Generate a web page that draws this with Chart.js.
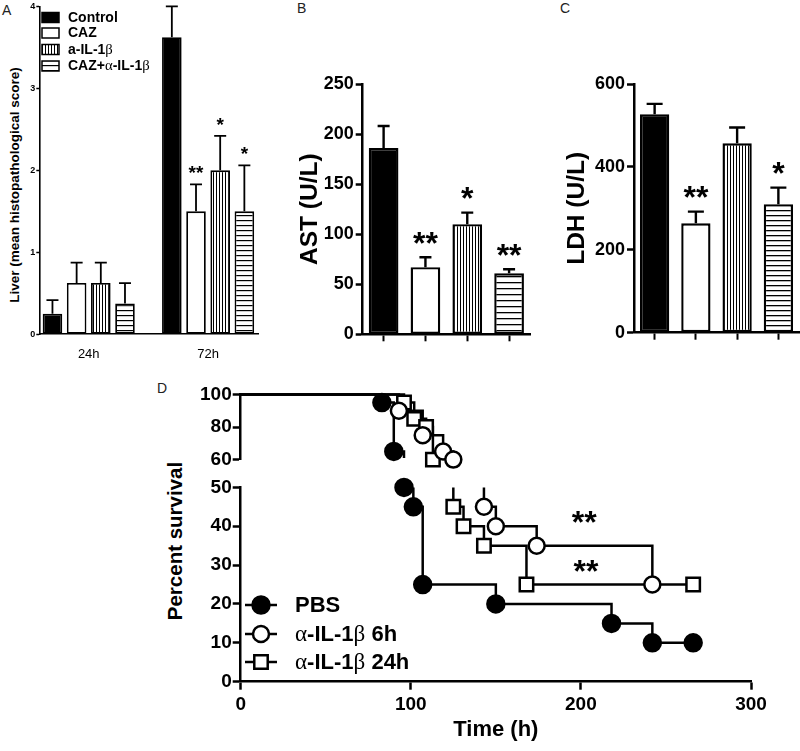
<!DOCTYPE html>
<html><head><meta charset="utf-8">
<script src="https://cdn.jsdelivr.net/npm/chart.js@4.4.1/dist/chart.umd.min.js"></script>
<style>
html,body{margin:0;padding:0;background:#fff;width:800px;height:751px;overflow:hidden;font-family:"Liberation Sans",Arial,sans-serif;}
canvas{position:absolute;}
.pl{position:absolute;font-size:14px;line-height:14px;color:#222;}
.rot{position:absolute;transform:translate(-50%,-50%) rotate(-90deg);font-weight:bold;white-space:nowrap;color:#000;line-height:1;}
</style></head><body>
<div class="pl" style="left:2px;top:3px">A</div>
<div class="pl" style="left:297px;top:1px">B</div>
<div class="pl" style="left:560px;top:1px">C</div>
<div class="pl" style="left:157px;top:381px">D</div>
<div class="rot" style="left:15px;top:185px;font-size:13.5px">Liver (mean histopathological score)</div>
<div class="rot" style="left:175px;top:541px;font-size:20.5px">Percent survival</div>
<canvas id="cA" width="270" height="380" style="left:0;top:0"></canvas>
<canvas id="cB" width="255" height="350" style="left:280px;top:0"></canvas>
<canvas id="cC" width="265" height="350" style="left:535px;top:0"></canvas>
<canvas id="cD1" width="650" height="90" style="left:150px;top:382px"></canvas>
<canvas id="cD2" width="650" height="276" style="left:150px;top:475px"></canvas>
<script>
// ---------- DATA ----------
const groupsA = ['24h', '72h'];
const treatments = ['Control', 'CAZ', 'a-IL-1β', 'CAZ+α-IL-1β'];
const liverControl = [0.25, 3.625];
const liverCAZ = [0.625, 1.5];
const liverAIL = [0.625, 2.0];
const liverCombo = [0.375, 1.5];
const liverErrControl = [0.167, 0.375];
const liverErrCAZ = [0.25, 0.33];
const liverErrAIL = [0.25, 0.42];
const liverErrCombo = [0.25, 0.56];
const liverSigControl = ['', ''];
const liverSigCAZ = ['', '**'];
const liverSigAIL = ['', '*'];
const liverSigCombo = ['', '*'];
const ticksA = [0, 1, 2, 3, 4];

const astMean = [186, 67, 110, 61];
const astErr = [22, 10, 11.5, 4];
const astSig = ['', '**', '*', '**'];
const ticksB = [0, 50, 100, 150, 200, 250];

const ldhMean = [527, 264, 457, 310];
const ldhErr = [25, 28, 38, 40];
const ldhSig = ['', '**', '', '*'];
const ticksC = [0, 200, 400, 600];

const survNames = ['PBS', 'α-IL-1β 6h', 'α-IL-1β 24h'];
const survTimePBS = [0, 83, 90, 96, 101.5, 107, 150, 218, 242, 266];
const survPBS = [100, 95, 65, 50, 45, 25, 20, 15, 10, 10];
const survTime6h = [0, 93, 107, 119, 125, 143, 150, 174, 242];
const surv6h = [100, 90, 75, 65, 60, 45, 40, 35, 25];
const survTime24h = [0, 96, 102, 109, 113, 125, 131, 143, 168, 266];
const surv24h = [100, 95, 85, 80, 60, 45, 40, 35, 25, 25];
const ticksDUpper = [60, 80, 100];
const ticksDLower = [0, 10, 20, 30, 40, 50];
const ticksDX = [0, 100, 200, 300];

// ---------- HELPERS ----------
Chart.defaults.font.family = '"Liberation Sans", Arial, Helvetica, sans-serif';
Chart.defaults.color = '#000';
const SANS = '"Liberation Sans", Arial, sans-serif';
const SERIF = '"Liberation Serif", "DejaVu Serif", serif';

function makePattern(canvasId, kind, period, lw) {
  const c = document.createElement('canvas');
  c.width = period; c.height = period;
  const g = c.getContext('2d');
  g.fillStyle = '#fff'; g.fillRect(0, 0, period, period);
  g.fillStyle = '#000';
  if (kind === 'v') g.fillRect(0, 0, lw, period); else g.fillRect(0, 0, period, lw);
  return document.getElementById(canvasId).getContext('2d').createPattern(c, 'repeat');
}

function drawRich(ctx, text, x, y, size) {
  const runs = text.split(/([α-ωΑ-Ω]+)/).filter(s => s);
  ctx.textBaseline = 'middle'; ctx.textAlign = 'left'; ctx.fillStyle = '#000';
  let cx = x;
  runs.forEach(r => {
    const greek = /[α-ωΑ-Ω]/.test(r);
    ctx.font = greek ? `${size * 1.05}px ${SERIF}` : `bold ${size}px ${SANS}`;
    ctx.fillText(r, cx, y);
    cx += ctx.measureText(r).width;
  });
}

const barExtras = {
  id: 'barExtras',
  afterDatasetsDraw(chart, args, opts) {
    const ctx = chart.ctx, ys = chart.scales.y;
    ctx.save();
    chart.data.datasets.forEach((ds, di) => {
      const meta = chart.getDatasetMeta(di);
      meta.data.forEach((bar, j) => {
        const raw = ds.data[j];
        const v = (typeof raw === 'object') ? raw.y : raw;
        const yTop = ys.getPixelForValue(v + ds.errors[j]);
        ctx.strokeStyle = '#000'; ctx.lineWidth = opts.lineWidth;
        ctx.beginPath();
        ctx.moveTo(bar.x, bar.y); ctx.lineTo(bar.x, yTop);
        ctx.moveTo(bar.x - opts.cap / 2, yTop); ctx.lineTo(bar.x + opts.cap / 2, yTop);
        ctx.stroke();
        const s = ds.sig[j];
        if (s) {
          ctx.font = `bold ${opts.sigSize}px ${SANS}`;
          ctx.textAlign = 'center'; ctx.textBaseline = 'alphabetic'; ctx.fillStyle = '#000';
          ctx.fillText(s, bar.x, yTop - opts.sigGap);
        }
      });
    });
    ctx.restore();
  }
};

function fixedTicks(arr) { return s => { s.ticks = arr.map(v => ({ value: v })); }; }

// ---------- PANEL A ----------
const patA_v = makePattern('cA', 'v', 3, 1);
const patA_h = makePattern('cA', 'h', 5, 1.2);
const fillsA = ['#000', '#fff', patA_v, patA_h];
const valsA = [liverControl, liverCAZ, liverAIL, liverCombo];
const errsA = [liverErrControl, liverErrCAZ, liverErrAIL, liverErrCombo];
const sigsA = [liverSigControl, liverSigCAZ, liverSigAIL, liverSigCombo];

const legendA = {
  id: 'legendA',
  afterDraw(chart) {
    const ctx = chart.ctx;
    const rows = [17.5, 33, 49.5, 66];
    ctx.save();
    treatments.forEach((name, i) => {
      ctx.fillStyle = fillsA[i];
      ctx.fillRect(42, rows[i] - 5, 17, 10);
      ctx.strokeStyle = '#000'; ctx.lineWidth = 1.5;
      ctx.strokeRect(42, rows[i] - 5, 17, 10);
      drawRich(ctx, name, 68, rows[i] + 0.5, 14);
    });
    ctx.restore();
  }
};

new Chart(document.getElementById('cA'), {
  type: 'bar',
  data: {
    datasets: treatments.map((name, i) => ({
      label: name,
      data: groupsA.map((g, k) => ({ x: k, y: valsA[i][k] })),
      errors: errsA[i], sig: sigsA[i],
      backgroundColor: fillsA[i], borderColor: '#000', borderWidth: 1.8,
      borderSkipped: false,
      categoryPercentage: 0.81, barPercentage: 0.81
    }))
  },
  options: {
    responsive: false, animation: false, events: [],
    layout: { padding: { left: 0, top: 5.7, right: 12, bottom: 10 } },
    plugins: { legend: { display: false }, tooltip: { enabled: false },
      barExtras: { lineWidth: 1.8, cap: 12, sigSize: 19, sigGap: 5 } },
    scales: {
      x: { type: 'linear', min: -0.414, max: 1.418, offset: false,
        afterBuildTicks: fixedTicks([0, 1]),
        ticks: { callback: v => groupsA[v], font: { size: 13 }, padding: 12, autoSkip: false, maxRotation: 0 },
        grid: { display: false, drawTicks: false },
        border: { display: true, color: '#000', width: 1.6 },
        afterFit: s => { s.height = 35.7; } },
      y: { min: 0, max: 4,
        afterBuildTicks: fixedTicks(ticksA),
        ticks: { font: { size: 9, weight: 'bold' }, padding: 1 },
        grid: { display: true, drawOnChartArea: false, drawTicks: true, tickLength: 3, tickWidth: 1.5, tickColor: '#000' },
        border: { display: true, color: '#000', width: 1.6 },
        afterFit: s => { s.width = 39.3; } }
    }
  },
  plugins: [barExtras, legendA]
});

// ---------- PANELS B & C ----------
function barPanel(id, means, errs, sigs, ticks, maxV, title, yWidth, titlePad, xH, pH) {
  const fills = ['#000', '#fff', makePattern(id, 'v', 3, 1), makePattern(id, 'h', pH, 1.3)];
  new Chart(document.getElementById(id), {
    type: 'bar',
    data: {
      labels: treatments,
      datasets: [{ data: means, errors: errs, sig: sigs, backgroundColor: fills,
        borderColor: '#000', borderWidth: 2.4, borderSkipped: false,
        categoryPercentage: 1, barPercentage: 0.71 }]
    },
    options: {
      responsive: false, animation: false, events: [],
      layout: { padding: { left: 0, top: 84, right: id === 'cB' ? 5 : 1, bottom: 0 } },
      plugins: { legend: { display: false }, tooltip: { enabled: false },
        barExtras: { lineWidth: 2.4, cap: id === 'cB' ? 12 : 16, sigSize: 32, sigGap: 3.6 } },
      scales: {
        x: { ticks: { display: false },
          grid: { display: true, offset: false, drawOnChartArea: false, drawTicks: true, tickLength: 7, tickWidth: 2, tickColor: '#000' },
          border: { display: true, color: '#000', width: 2.5 },
          afterFit: s => { s.height = xH; } },
        y: { min: 0, max: maxV,
          afterBuildTicks: fixedTicks(ticks),
          ticks: { font: { size: 18, weight: 'bold' }, padding: 2 },
          grid: { display: true, drawOnChartArea: false, drawTicks: true, tickLength: 7, tickWidth: 2.5, tickColor: '#000' },
          border: { display: true, color: '#000', width: 2.5 },
          title: { display: true, text: title, font: { size: 24.5, weight: 'bold' }, padding: { top: titlePad, bottom: 0 } },
          afterFit: s => { s.width = yWidth; } }
      }
    },
    plugins: [barExtras]
  });
}
barPanel('cB', astMean, astErr, astSig, ticksB, 250, 'AST (U/L)', 82.7, 15.3, 15.7, 6);
barPanel('cC', ldhMean, ldhErr, ldhSig, ticksC, 600, 'LDH (U/L)', 99, 27.3, 17.3, 5.5);

// ---------- PANEL D ----------
const survStyles = [
  { style: 'circle', fill: '#000', r: 8.5 },
  { style: 'circle', fill: '#fff', r: 8 },
  { style: 'rect', fill: '#fff', r: 9.5 }
];
const survT = [survTimePBS, survTime6h, survTime24h];
const survS = [survPBS, surv6h, surv24h];

function drawMarker(ctx, st, x, y) {
  ctx.fillStyle = st.fill; ctx.strokeStyle = '#000'; ctx.lineWidth = 2.5;
  ctx.beginPath();
  if (st.style === 'rect') { const h = st.r * Math.SQRT1_2; ctx.rect(x - h, y - h, 2 * h, 2 * h); }
  else ctx.arc(x, y, st.r, 0, Math.PI * 2);
  ctx.fill(); ctx.stroke();
}

const legendD = {
  id: 'legendD',
  afterDraw(chart) {
    const ctx = chart.ctx;
    const rows = [130, 159, 187];
    ctx.save();
    survNames.forEach((name, i) => {
      ctx.strokeStyle = '#000'; ctx.lineWidth = 2.5;
      ctx.beginPath(); ctx.moveTo(95, rows[i]); ctx.lineTo(127, rows[i]); ctx.stroke();
      drawMarker(ctx, survStyles[i], 111, rows[i]);
      drawRich(ctx, name, 145, rows[i] + 1, 22);
    });
    const xs = chart.scales.x, ys = chart.scales.y;
    ctx.font = `bold 32px ${SANS}`; ctx.textAlign = 'center'; ctx.textBaseline = 'alphabetic'; ctx.fillStyle = '#000';
    [[202, 43], [203, 30.5]].forEach(([t, v]) => {
      ctx.fillText('**', xs.getPixelForValue(t), ys.getPixelForValue(v) + 18.4);
    });
    ctx.restore();
  }
};

function survChart(id, yMin, yMax, yTicks, lower) {
  const datasets = [];
  survStyles.forEach((st, i) => {
    const pts = survT[i].map((t, k) => ({ x: t, y: survS[i][k] })).slice(1)
      .filter(p => p.y >= yMin && p.y <= yMax);
    datasets.push({ data: pts, showLine: false, pointStyle: st.style, pointRadius: st.r,
      pointBackgroundColor: st.fill, pointBorderColor: '#000', pointBorderWidth: 2.5, clip: false });
  });
  survStyles.forEach((st, i) => {
    datasets.push({ data: survT[i].map((t, k) => ({ x: t, y: survS[i][k] })), stepped: true,
      borderColor: '#000', borderWidth: 2.5, pointRadius: 0, fill: false,
      clip: { left: 2, top: lower ? 0 : 2, right: 2, bottom: lower ? 0 : -1.5 } });
  });
  const xScale = { type: 'linear', min: 0, max: 300, display: lower,
    afterBuildTicks: fixedTicks(ticksDX),
    ticks: { font: { size: 19, weight: 'bold' }, padding: 4, maxRotation: 0 },
    grid: { display: true, drawOnChartArea: false, drawTicks: true, tickLength: 8, tickWidth: 2.5, tickColor: '#000' },
    border: { display: true, color: '#000', width: 2.5 },
    title: { display: lower, text: 'Time (h)', font: { size: 22, weight: 'bold' }, padding: { top: 0, bottom: 0 } } };
  if (lower) xScale.afterFit = s => { s.height = 61.3; };
  new Chart(document.getElementById(id), {
    type: 'line',
    data: { datasets },
    options: {
      responsive: false, animation: false, events: [],
      layout: { padding: lower ? { left: 0, top: 12, right: 49, bottom: 8 } : { left: 0, top: 12, right: 49, bottom: 12 } },
      plugins: { legend: { display: false }, tooltip: { enabled: false } },
      scales: {
        x: xScale,
        y: { min: yMin, max: yMax,
          afterBuildTicks: fixedTicks(yTicks),
          ticks: { font: { size: 19, weight: 'bold' }, padding: 1 },
          grid: { display: true, drawOnChartArea: false, drawTicks: true, tickLength: 8, tickWidth: 2.5, tickColor: '#000' },
          border: { display: true, color: '#000', width: 2.5 },
          afterFit: s => { s.width = 90.7; } }
      }
    },
    plugins: lower ? [legendD] : []
  });
}
survChart('cD1', 60, 100, ticksDUpper, false);
survChart('cD2', 0, 50, ticksDLower, true);
</script>
</body></html>
